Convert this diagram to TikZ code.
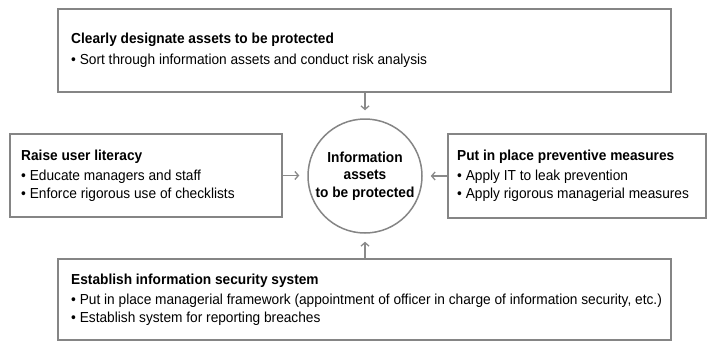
\documentclass[tikz,border=0pt]{standalone}
\usepackage{fontspec}
\setmainfont{Liberation Sans}[FakeStretch=0.945]
\usetikzlibrary{arrows.meta}
\definecolor{bordergray}{HTML}{858585}
\definecolor{arrowgray}{HTML}{8A8A8A}
\begin{document}
\begin{tikzpicture}[x=1pt,y=-1pt,
  box/.style={draw=bordergray, line width=2pt, rectangle, inner sep=0pt},
  boxtext/.style={anchor=west, inner sep=0pt, align=left, font=\fontsize{14.5}{18}\selectfont},
  hub/.style={draw=bordergray, line width=1.5pt, circle, minimum size=114pt, inner sep=0pt,
    align=center, font=\bfseries\fontsize{14.5}{17.5}\selectfont},
  link/.style={draw=arrowgray, line width=1.3pt, -{Straight Barb[length=3.5pt,width=8pt]}, shorten >=8pt}]
\useasboundingbox (0,0) rectangle (707,343);
\node[box, minimum width=613pt, minimum height=83pt] (top) at (364.5,50.5) {};
\node[boxtext] (toptext) at ([xshift=14pt]top.west)
  {\textbf{Clearly designate assets to be protected}\\[3pt]
   • Sort through information assets and conduct risk analysis};
\node[box, minimum width=272pt, minimum height=83pt] (left) at (146,175.5) {};
\node[boxtext] (lefttext) at ([xshift=12pt]left.west)
  {\textbf{Raise user literacy}\\[2pt]
   • Educate managers and staff\\
   • Enforce rigorous use of checklists};
\node[box, minimum width=258pt, minimum height=84pt] (right) at (577,176) {};
\node[boxtext] (righttext) at ([xshift=10pt]right.west)
  {\textbf{Put in place preventive measures}\\[2pt]
   • Apply IT to leak prevention\\
   • Apply rigorous managerial measures};
\node[box, minimum width=613pt, minimum height=81pt] (bottom) at (364.5,299.5) {};
\node[boxtext] (bottomtext) at ([xshift=14pt]bottom.west)
  {\textbf{Establish information security system}\\[2pt]
   • Put in place managerial framework (appointment of officer in charge of information security, etc.)\\
   • Establish system for reporting breaches};
\node[hub] (hub) at (365,176) {Information\\assets\\to be protected};
\draw[link] (top.south -| hub) -- (hub.north);
\draw[link] (bottom.north -| hub) -- (hub.south);
\draw[link] (left.east) -- (left.east -| hub.west);
\draw[link] (right.west) -- (right.west -| hub.east);
\end{tikzpicture}
\end{document}
